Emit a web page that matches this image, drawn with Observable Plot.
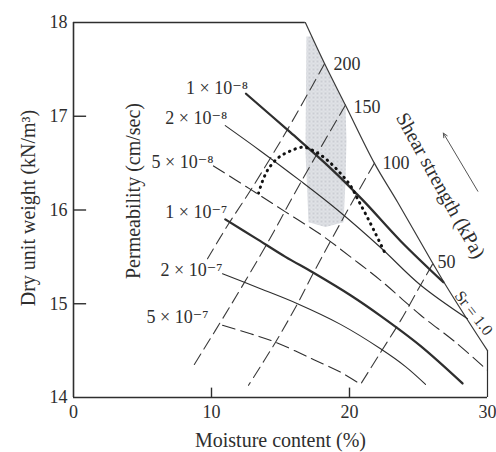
<!DOCTYPE html>
<html><head><meta charset="utf-8">
<script src="https://cdn.jsdelivr.net/npm/d3@7"></script>
<script src="https://cdn.jsdelivr.net/npm/@observablehq/plot@0.6"></script>
<style>
html,body{margin:0;padding:0;background:#fff;}
#chart{width:496px;height:452px;}
</style></head><body><div id="chart"></div>
<script>
// ---- axis ticks ----
const xTicks = [0, 10, 20, 30];
const yTicks = [14, 15, 16, 17, 18];
const xInnerTicks = [10, 20];
const yInnerTicks = [15, 16, 17];

// ---- Sr = 1.0 (zero air voids) curve ----
const zavW = [16.8, 18.2, 19.7, 21.8, 23.5, 26.0, 26.8, 28.5, 30.0];
const zavG = [18.0, 17.56, 17.12, 16.5, 16.08, 15.44, 15.24, 14.84, 14.5];

// ---- permeability contours (cm/sec) ----
const permLabels = ["1 × 10⁻⁸", "2 × 10⁻⁸", "5 × 10⁻⁸", "1 × 10⁻⁷", "2 × 10⁻⁷", "5 × 10⁻⁷"];
const k1e8W = [12.5, 15.7, 18.6, 21.0, 23.7, 26.8];
const k1e8G = [17.24, 16.83, 16.45, 16.10, 15.67, 15.23];
const k2e8W = [11.0, 13.55, 16.45, 19.13, 22.25, 25.14, 28.55];
const k2e8G = [16.9, 16.63, 16.31, 16.0, 15.6, 15.2, 14.84];
const k5e8W = [10.14, 12.83, 15.36, 17.9, 20.07, 22.25, 25.14, 27.68, 30.0];
const k5e8G = [16.47, 16.22, 15.98, 15.74, 15.5, 15.25, 14.88, 14.59, 14.29];
const k1e7W = [11.0, 13.19, 15.36, 17.39, 20.07, 22.25, 25.14, 28.19];
const k1e7G = [15.9, 15.7, 15.5, 15.33, 15.09, 14.87, 14.55, 14.15];
const k2e7W = [10.8, 13.55, 16.23, 19.35, 22.25, 24.06, 25.51];
const k2e7G = [15.32, 15.16, 15.0, 14.78, 14.52, 14.33, 14.14];
const k5e7W = [10.8, 12.83, 14.64, 17.17, 19.35, 20.8];
const k5e7G = [14.77, 14.68, 14.59, 14.42, 14.27, 14.14];

// ---- shear strength contours (kPa) ----
const shearLabels = ["200", "150", "100", "50"];
const s200W = [18.19, 15.51, 12.83, 11.23, 9.71];
const s200G = [17.56, 16.86, 16.21, 15.85, 15.48];
const s150W = [19.71, 16.45, 14.06, 11.38, 8.62];
const s150G = [17.12, 16.29, 15.65, 14.98, 14.32];
const s100W = [21.81, 19.57, 17.39, 16.23, 14.64, 12.68];
const s100G = [16.5, 15.92, 15.33, 15.0, 14.59, 14.13];
const s50W = [26.01, 25.0, 23.7, 22.25, 20.8];
const s50G = [15.42, 15.16, 14.82, 14.48, 14.14];

// ---- line of optimums (dotted) ----
const optW = [13.41, 13.7, 14.13, 14.86, 15.72, 16.67, 17.54, 18.41, 19.35, 20.07, 20.65, 21.23, 21.88, 22.54];
const optG = [16.18, 16.31, 16.44, 16.56, 16.63, 16.67, 16.62, 16.53, 16.39, 16.26, 16.1, 15.94, 15.75, 15.55];

// ---- shaded acceptable zone ----
const zoneW = [16.88, 17.28, 18.19, 19.71, 19.78, 19.71, 19.57, 18.26, 17.03, 16.81];
const zoneG = [17.85, 17.85, 17.56, 17.12, 16.74, 16.31, 15.87, 15.82, 15.87, 16.63];

const zip = (W, G) => W.map((w, i) => ({w, g: G[i]}));

const permSeries = [
  [k1e8W, k1e8G], [k2e8W, k2e8G], [k5e8W, k5e8G],
  [k1e7W, k1e7G], [k2e7W, k2e7G], [k5e7W, k5e7G]
].map(([W, G]) => zip(W, G));
const permStyle = [
  {sw: 2.3, dash: null, dx: 2, dy: -6},
  {sw: 1.1, dash: null, dx: 2, dy: -7},
  {sw: 1.1, dash: "13,6", dx: 0, dy: -4},
  {sw: 2.3, dash: null, dx: 2, dy: -7},
  {sw: 1.1, dash: null, dx: 0, dy: -4},
  {sw: 1.1, dash: "13,6", dx: -14, dy: -8}
];
const shearSeries = [[s200W, s200G], [s150W, s150G], [s100W, s100G], [s50W, s50G]].map(([W, G]) => zip(W, G));
const shearLabelOff = [{dx: 9, dy: 0}, {dx: 8, dy: 2}, {dx: 8, dy: 0}, {dx: 5, dy: -2}];

const ink = "#2e2e2e";
const marks = [];

// shaded zone
marks.push(Plot.line(zip(zoneW, zoneG), {x: "w", y: "g", fill: "url(#stip)", stroke: "none"}));

// frame
marks.push(Plot.ruleX([xTicks[0]], {y1: yTicks[0], y2: yTicks[yTicks.length - 1], stroke: ink, strokeWidth: 1.6}));
marks.push(Plot.ruleY([yTicks[0]], {x1: xTicks[0], x2: xTicks[xTicks.length - 1], stroke: ink, strokeWidth: 1.6}));
marks.push(Plot.ruleY([yTicks[yTicks.length - 1]], {x1: xTicks[0], x2: zavW[0], stroke: ink, strokeWidth: 1.4}));
marks.push(Plot.ruleX([xTicks[xTicks.length - 1]], {y1: yTicks[0], y2: zavG[zavG.length - 1], stroke: ink, strokeWidth: 1.2}));
marks.push(Plot.line(zip(zavW, zavG), {x: "w", y: "g", stroke: "#3a3a3a", strokeWidth: 1.2, curve: "catmull-rom"}));
marks.push(Plot.ruleX(xInnerTicks, {y1: yTicks[0], y2: yTicks[0] + 0.1, stroke: ink, strokeWidth: 1.4}));
marks.push(Plot.ruleY(yInnerTicks, {x1: xTicks[0], x2: xTicks[0] + 0.95, stroke: ink, strokeWidth: 1.4}));

// shear strength contours
shearSeries.forEach((s, i) => {
  marks.push(Plot.line(s, {x: "w", y: "g", stroke: "#3a3a3a", strokeWidth: 1.1, strokeDasharray: "12,6", curve: "catmull-rom"}));
  marks.push(Plot.text([{...s[0], t: shearLabels[i]}], {x: "w", y: "g", text: "t", textAnchor: "start",
    dx: shearLabelOff[i].dx, dy: shearLabelOff[i].dy, fontSize: 18, fill: ink}));
});

// permeability contours
permSeries.forEach((s, i) => {
  const st = permStyle[i];
  marks.push(Plot.line(s, {x: "w", y: "g", stroke: ink, strokeWidth: st.sw, strokeDasharray: st.dash, curve: "catmull-rom"}));
  marks.push(Plot.text([{...s[0], t: permLabels[i]}], {x: "w", y: "g", text: "t", textAnchor: "end",
    dx: st.dx, dy: st.dy, fontSize: 18, fill: ink}));
});

// line of optimums
marks.push(Plot.line(zip(optW, optG), {x: "w", y: "g", stroke: "#111", strokeWidth: 3, strokeDasharray: "0.5,5.5", strokeLinecap: "round", curve: "catmull-rom"}));

// axes
marks.push(Plot.axisX(xTicks, {tickSize: 0, tickPadding: 8, fontSize: 18, label: null, fill: ink, tickFormat: "d"}));
marks.push(Plot.axisY(yTicks, {tickSize: 0, tickPadding: 6, fontSize: 18, label: null, fill: ink, tickFormat: "d"}));

// titles and annotations
marks.push(Plot.text(["Dry unit weight (kN/m³)"], {frameAnchor: "left", textAnchor: "middle", lineAnchor: "middle", dx: -45, dy: -2, rotate: -90, fontSize: 20, fill: ink}));
marks.push(Plot.text(["Moisture content (%)"], {frameAnchor: "bottom", textAnchor: "middle", lineAnchor: "middle", dy: 43, fontSize: 20, fill: ink}));
marks.push(Plot.text(["Permeability (cm/sec)"], {frameAnchor: "left", textAnchor: "middle", lineAnchor: "middle", dx: 60, dy: -19, rotate: -90, fontSize: 20, fill: ink}));
marks.push(Plot.text(["Shear strength (kPa)"], {x: 26.6, y: 16.26, rotate: 61, fontSize: 20, fill: ink}));
marks.push(Plot.text(["Sr = 1.0"], {x: 29.0, y: 14.9, rotate: 52, fontSize: 16, fill: ink}));
marks.push(Plot.arrow([0], {x1: 29.3, y1: 16.2, x2: 26.8, y2: 16.82, stroke: "#555", strokeWidth: 1, headLength: 7, headAngle: 50}));

const chart = Plot.plot({
  width: 496, height: 452,
  marginLeft: 73, marginRight: 9, marginTop: 22, marginBottom: 55,
  x: {domain: [xTicks[0], xTicks[xTicks.length - 1]]},
  y: {domain: [yTicks[0], yTicks[yTicks.length - 1]]},
  style: {fontFamily: "'Liberation Serif', 'DejaVu Serif', serif", background: "#fff", color: ink, overflow: "visible"},
  marks
});

// stipple pattern for the shaded zone
const svg = chart.tagName.toLowerCase() === "svg" ? chart : chart.querySelector("svg");
const ns = "http://www.w3.org/2000/svg";
const defs = document.createElementNS(ns, "defs");
const pat = document.createElementNS(ns, "pattern");
pat.setAttribute("id", "stip");
pat.setAttribute("width", "4"); pat.setAttribute("height", "4");
pat.setAttribute("patternUnits", "userSpaceOnUse");
const bg = document.createElementNS(ns, "rect");
bg.setAttribute("width", "4"); bg.setAttribute("height", "4"); bg.setAttribute("fill", "#e1e3e7");
pat.appendChild(bg);
[[1, 1, 0.8, "#aeb2bb"], [3, 3, 0.6, "#c2c5cc"]].forEach(([cx, cy, r, f]) => {
  const c = document.createElementNS(ns, "circle");
  c.setAttribute("cx", cx); c.setAttribute("cy", cy); c.setAttribute("r", r); c.setAttribute("fill", f);
  pat.appendChild(c);
});
defs.appendChild(pat);
svg.insertBefore(defs, svg.firstChild);

document.getElementById("chart").appendChild(chart);
</script></body></html>
